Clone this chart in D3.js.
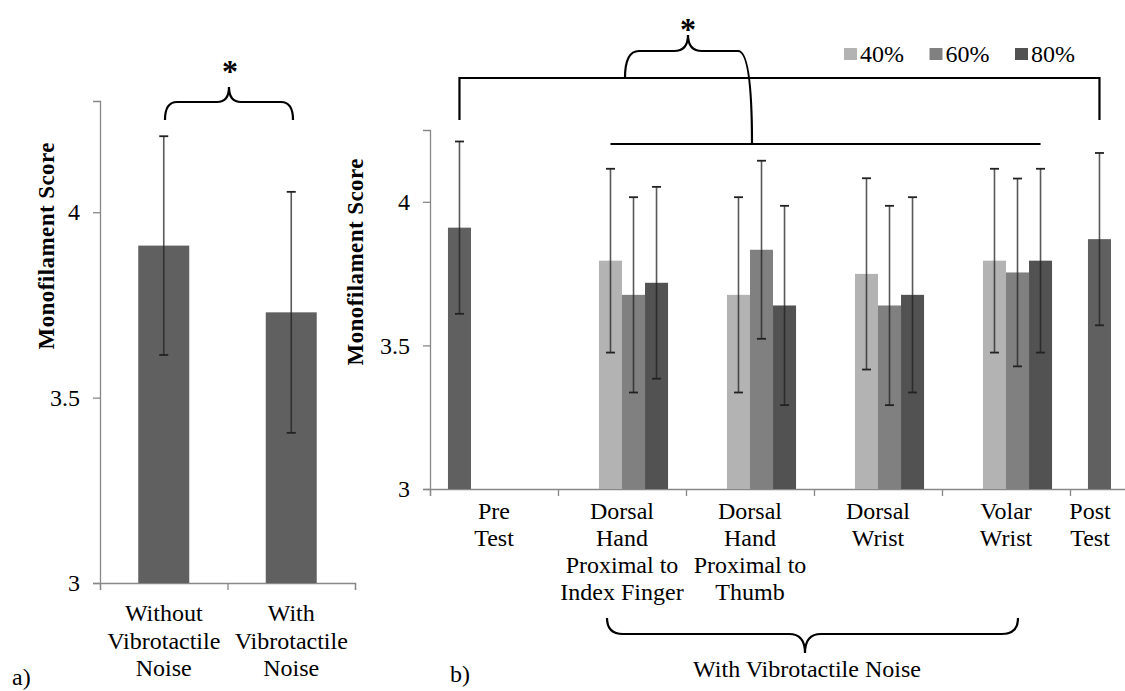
<!doctype html>
<html>

<head>
    <title>monofilament score</title>
    <style>
        body { margin: 0; background: #fff; }
    </style>
    <script src="https://d3js.org/d3.v7.min.js"></script>
</head>

<body>
    <svg width="1125" height="691"></svg>
    <script>

        // panel a
        var leftCats = ["Without Vibrotactile Noise", "With Vibrotactile Noise"];
        var leftLabels = [["Without", "Vibrotactile", "Noise"], ["With", "Vibrotactile", "Noise"]];
        var leftMeans = [3.91, 3.73];
        var leftErrors = [0.295, 0.325];

        // panel b
        var rightCats = ["Pre Test", "Dorsal Hand Proximal to Index Finger", "Dorsal Hand Proximal to Thumb",
            "Dorsal Wrist", "Volar Wrist", "Post Test"];
        var rightLabels = [["Pre", "Test"], ["Dorsal", "Hand", "Proximal to", "Index Finger"],
            ["Dorsal", "Hand", "Proximal to", "Thumb"], ["Dorsal", "Wrist"], ["Volar", "Wrist"], ["Post", "Test"]];
        var levels = ["40%", "60%", "80%"];
        var baseMeans = [3.91, null, null, null, null, 3.87];
        var baseErrors = [0.30, null, null, null, null, 0.30];
        var means40 = [null, 3.795, 3.676, 3.749, 3.795, null];
        var errors40 = [null, 0.32, 0.34, 0.333, 0.32, null];
        var means60 = [null, 3.676, 3.833, 3.639, 3.754, null];
        var errors60 = [null, 0.34, 0.31, 0.347, 0.327, null];
        var means80 = [null, 3.718, 3.639, 3.676, 3.795, null];
        var errors80 = [null, 0.334, 0.347, 0.34, 0.32, null];

        var yTicks = [3, 3.5, 4];

        var colors = { base: "#606060", "40%": "#b3b3b3", "60%": "#808080", "80%": "#525252" };
        var FONT = "'Liberation Serif', serif";
        var SIZE = "24px";

        var svg = d3.select("svg"),
            W = 1125;

        function errorBar(g, cx, yScale, m, e, capW) {
            g.append("line")
                .attr("x1", cx).attr("x2", cx)
                .attr("y1", yScale(m + e)).attr("y2", yScale(m - e))
                .attr("stroke", "#222").attr("stroke-opacity", 0.75).attr("stroke-width", 1.6);
            [m + e, m - e].forEach(function (v) {
                g.append("line")
                    .attr("x1", cx - capW / 2).attr("x2", cx + capW / 2)
                    .attr("y1", yScale(v)).attr("y2", yScale(v))
                    .attr("stroke", "#222").attr("stroke-width", 1.8);
            });
        }

        function styleAxis(sel) {
            sel.attr("font-family", FONT).attr("font-size", SIZE);
            sel.selectAll("text").attr("fill", "#000");
            sel.selectAll("path, line").attr("stroke", "#888").attr("stroke-width", 1.3);
        }

        // curly brace between x1 and x2 with its tip at xm
        function brace(x1, x2, xm, yEnd1, yEnd2, yBar, yTip, r) {
            return "M" + x1 + "," + yEnd1 +
                "Q" + x1 + "," + yBar + " " + (x1 + r) + "," + yBar +
                "L" + (xm - r) + "," + yBar +
                "Q" + xm + "," + yBar + " " + xm + "," + yTip +
                "Q" + xm + "," + yBar + " " + (xm + r) + "," + yBar +
                "L" + (x2 - r) + "," + yBar +
                "Q" + x2 + "," + yBar + " " + x2 + "," + yEnd2;
        }

        function ink(path) {
            return svg.append("path").attr("d", path).attr("fill", "none")
                .attr("stroke", "#000").attr("stroke-width", 2.2);
        }

        function label(x, y, str, size) {
            return svg.append("text").attr("x", x).attr("y", y)
                .attr("font-family", FONT).attr("font-size", size || SIZE).text(str);
        }

        function yLabel(cx, cy) {
            svg.append("text")
                .attr("transform", "translate(" + cx + "," + cy + ") rotate(-90)")
                .attr("text-anchor", "middle").attr("font-family", FONT)
                .attr("font-weight", "bold").attr("font-size", "23px")
                .attr("textLength", 207).attr("lengthAdjust", "spacing")
                .text("Monofilament Score");
        }

        // ---------- panel a ----------
        var yA = d3.scaleLinear().domain([3, 4.3]).range([583, 101]);
        var xA = d3.scaleBand().domain(leftCats).range([100, 355]).paddingInner(0.6).paddingOuter(0.3);

        var gA = svg.append("g");

        gA.append("g")
            .attr("transform", "translate(100,0)")
            .call(d3.axisLeft(yA).tickValues(yTicks).tickSize(7).tickPadding(13).tickFormat(d3.format("")))
            .call(styleAxis);

        gA.append("g")
            .attr("transform", "translate(0,583)")
            .call(d3.axisBottom(d3.scalePoint().domain([0, 1, 2]).range([100, 355])).tickSize(7).tickFormat(""))
            .call(styleAxis);

        leftCats.forEach(function (c, i) {
            gA.append("rect")
                .attr("x", xA(c)).attr("width", xA.bandwidth())
                .attr("y", yA(leftMeans[i])).attr("height", yA(3) - yA(leftMeans[i]))
                .attr("fill", colors.base);
            errorBar(gA, xA(c) + xA.bandwidth() / 2, yA, leftMeans[i], leftErrors[i], 9);

            var t = gA.append("text").attr("text-anchor", "middle").attr("font-family", FONT).attr("font-size", SIZE);
            leftLabels[i].forEach(function (line, j) {
                t.append("tspan").attr("x", xA(c) + xA.bandwidth() / 2).attr("y", 621 + j * 27.5).text(line);
            });
        });

        yLabel(54, 246);
        label(12, 685, "a)");

        ink(brace(165, 293, 229, 120, 120, 102, 87, 12));
        label(230, 82, "*", "32px").attr("text-anchor", "middle").attr("font-weight", "bold");

        // ---------- panel b ----------
        var yB = d3.scaleLinear().domain([3, 4.25]).range([489, 130]);
        var xB = d3.scaleBand().domain(rightCats).range([430, 430 + 128 * rightCats.length]);
        var sub = d3.scaleBand().domain(["base"].concat(levels)).range([0, xB.bandwidth()])
            .paddingInner(0).paddingOuter(0.78);

        var gB = svg.append("g");

        gB.append("g")
            .attr("transform", "translate(430,0)")
            .call(d3.axisLeft(yB).tickValues(yTicks).tickSize(7).tickPadding(13).tickFormat(d3.format("")))
            .call(styleAxis);

        gB.append("g")
            .attr("transform", "translate(0,489)")
            .call(d3.axisBottom(d3.scalePoint().domain(d3.range(rightCats.length + 1))
                .range([430, 430 + 128 * rightCats.length])).tickSize(7).tickFormat(""))
            .call(styleAxis);

        var series = [
            { key: "base", means: baseMeans, errors: baseErrors },
            { key: "40%", means: means40, errors: errors40 },
            { key: "60%", means: means60, errors: errors60 },
            { key: "80%", means: means80, errors: errors80 }
        ];

        series.forEach(function (s) {
            rightCats.forEach(function (c, i) {
                var m = s.means[i];
                if (m == null) return;
                gB.append("rect")
                    .attr("x", xB(c) + sub(s.key)).attr("width", sub.bandwidth())
                    .attr("y", yB(m)).attr("height", yB(3) - yB(m))
                    .attr("fill", colors[s.key]);
            });
        });
        series.forEach(function (s) {
            rightCats.forEach(function (c, i) {
                var m = s.means[i];
                if (m == null) return;
                errorBar(gB, xB(c) + sub(s.key) + sub.bandwidth() / 2, yB, m, s.errors[i], 9);
            });
        });

        rightCats.forEach(function (c, i) {
            var cx = Math.min(xB(c) + xB.bandwidth() / 2, W - 35);
            var t = gB.append("text").attr("text-anchor", "middle").attr("font-family", FONT).attr("font-size", SIZE);
            rightLabels[i].forEach(function (line, j) {
                t.append("tspan").attr("x", cx).attr("y", 519 + j * 27).text(line);
            });
        });

        yLabel(363, 262);
        label(450, 682, "b)");

        // legend
        levels.forEach(function (l, i) {
            var lx = 844 + i * 85.5;
            svg.append("rect").attr("x", lx).attr("y", 48).attr("width", 13).attr("height", 12).attr("fill", colors[l]);
            label(lx + 16, 62, l);
        });

        // significance annotations
        var preX = xB(rightCats[0]) + sub("base") + sub.bandwidth() / 2,
            postX = xB(rightCats[5]) + sub("base") + sub.bandwidth() / 2,
            firstX = xB(rightCats[1]) + sub("40%") + sub.bandwidth() / 2,
            lastX = xB(rightCats[4]) + sub("80%") + sub.bandwidth() / 2;

        ink("M" + preX + ",120V78H" + postX + "V120");
        ink("M" + firstX + ",144H" + lastX);
        ink(brace(625, 752, 688, 78, 144, 51, 35, 14));
        label(688, 40, "*", "32px").attr("text-anchor", "middle").attr("font-weight", "bold");

        ink(brace(607, 1018, 805, 618, 618, 634, 653, 16));
        label(807, 677, "With Vibrotactile Noise").attr("text-anchor", "middle");

    </script>
</body>

</html>
